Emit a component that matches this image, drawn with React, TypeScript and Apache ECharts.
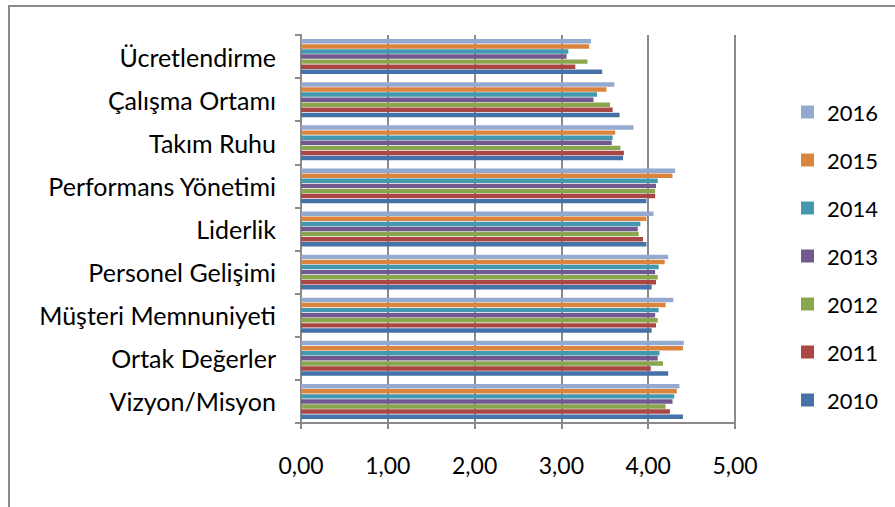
import React, { useEffect, useRef } from "react";
import * as echarts from "echarts";

const categories = [
  "Vizyon/Misyon",
  "Ortak Değerler",
  "Müşteri Memnuniyeti",
  "Personel Gelişimi",
  "Liderlik",
  "Performans Yönetimi",
  "Takım Ruhu",
  "Çalışma Ortamı",
  "Ücretlendirme",
];

// newest year first: each group is stacked 2016 on top down to 2010 at the bottom
const years = ["2016", "2015", "2014", "2013", "2012", "2011", "2010"];

const colors = ["#93A9CF", "#DB843D", "#4198AF", "#71588F", "#89A54E", "#AA4643", "#4572A7"];

// one array per year, in the order of the categories above
const v2010 = [4.4, 4.23, 4.04, 4.04, 3.98, 3.98, 3.71, 3.67, 3.47];
const v2011 = [4.25, 4.03, 4.09, 4.09, 3.94, 4.08, 3.72, 3.59, 3.16];
const v2012 = [4.2, 4.17, 4.11, 4.11, 3.89, 4.08, 3.68, 3.56, 3.3];
const v2013 = [4.28, 4.11, 4.08, 4.08, 3.88, 4.09, 3.58, 3.37, 3.06];
const v2014 = [4.3, 4.13, 4.12, 4.12, 3.91, 4.11, 3.59, 3.41, 3.08];
const v2015 = [4.33, 4.4, 4.2, 4.19, 3.98, 4.28, 3.62, 3.52, 3.32];
const v2016 = [4.36, 4.41, 4.29, 4.23, 4.06, 4.31, 3.83, 3.61, 3.34];

const seriesValues = [v2016, v2015, v2014, v2013, v2012, v2011, v2010];

const xTicks = ["0,00", "1,00", "2,00", "3,00", "4,00", "5,00"];

const FONT = "Lato";

export default function App() {
  const ref = useRef<HTMLDivElement>(null);

  useEffect(() => {
    document.body.style.margin = "0";
    if (!ref.current) return;
    const chart = echarts.init(ref.current, null, { renderer: "svg" });

    const series = years.map((y, i) => ({
      name: y,
      type: "bar",
      data: seriesValues[i],
      itemStyle: { color: colors[i] },
      barGap: "14%",
      barCategoryGap: "19%",
    }));

    chart.setOption({
      animation: false,
      grid: { left: 301, right: 160, top: 35, bottom: 84, containLabel: false },
      legend: {
        orient: "vertical",
        left: 801,
        top: 101,
        padding: 0,
        itemWidth: 13,
        itemHeight: 13,
        itemGap: 26,
        icon: "rect",
        data: years,
        textStyle: { fontFamily: FONT, fontSize: 22, color: "#000", padding: [0, 0, 0, 8] },
      },
      xAxis: {
        type: "value",
        min: 0,
        max: 5,
        interval: 1,
        axisLine: { show: true, lineStyle: { color: "#8a8a8a", width: 2 } },
        axisTick: { show: true, length: 6, lineStyle: { color: "#8a8a8a", width: 2 } },
        splitLine: { show: true, lineStyle: { color: "#8a8a8a", width: 2 } },
        axisLabel: {
          margin: 30,
          fontFamily: FONT,
          fontSize: 23,
          color: "#000",
          formatter: (val: number) => xTicks[Math.round(val)] ?? "",
        },
      },
      yAxis: {
        type: "category",
        data: categories,
        axisLine: { show: true, lineStyle: { color: "#8a8a8a", width: 2 } },
        axisTick: { show: true, length: 6, lineStyle: { color: "#8a8a8a", width: 2 } },
        axisLabel: { margin: 25, fontFamily: FONT, fontSize: 25, color: "#000" },
      },
      graphic: [
        {
          type: "rect",
          shape: { x: 9, y: 6, width: 1000, height: 1000 },
          style: { fill: "none", stroke: "#8a8a8a", lineWidth: 2 },
          silent: true,
        },
      ],
      series,
    });

    return () => chart.dispose();
  }, []);

  return <div ref={ref} style={{ width: 895, height: 507 }} />;
}
